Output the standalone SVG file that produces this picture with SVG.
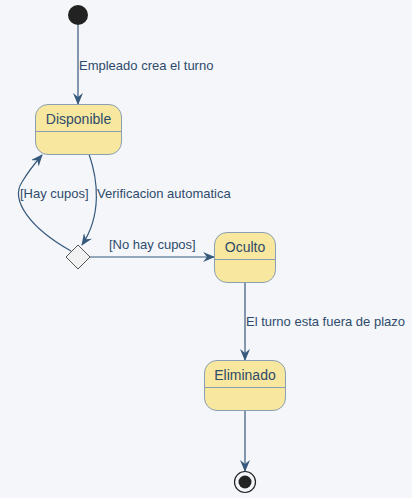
<svg xmlns="http://www.w3.org/2000/svg" width="412" height="498" viewBox="0 0 412 498">
<defs>
<style>
.st{fill:#F8E79E;stroke:#8AA0B2;stroke-width:1}
.dv{stroke:#8AA0B2;stroke-width:1}
.nm{font-family:"Liberation Sans",Arial,sans-serif;font-size:14px;fill:#2E4B6B;text-anchor:middle}
.lb{font-family:"Liberation Sans",Arial,sans-serif;font-size:13px;fill:#2E4B6B}
.ln{fill:none;stroke:#36597C;stroke-width:1.2}
</style>
<marker id="ah" viewBox="0 0 12 10" refX="11" refY="5" markerWidth="12" markerHeight="10" markerUnits="userSpaceOnUse" orient="auto">
<path d="M0,0 L12,5 L0,10 L4,5 z" fill="#36597C"/>
</marker>
</defs>
<rect width="412" height="498" fill="#F4F6FA"/>
<g id="connectors">
<line class="ln" x1="78" y1="25" x2="78" y2="104" marker-end="url(#ah)"/>
<path class="ln" d="M89,154 C98,180 102,215 82,245" marker-end="url(#ah)"/>
<path class="ln" d="M71,251 C30,228 10,200 22,182 C28,172 36,162 42,155" marker-end="url(#ah)"/>
<line class="ln" x1="90" y1="257" x2="214" y2="257" marker-end="url(#ah)"/>
<line class="ln" x1="245" y1="282" x2="245" y2="360" marker-end="url(#ah)"/>
<line class="ln" x1="245" y1="410" x2="245" y2="471" marker-end="url(#ah)"/>
<text class="lb" x="79" y="70">Empleado crea el turno</text>
<text class="lb" x="20" y="198">[Hay cupos]</text>
<text class="lb" x="97" y="198">Verificacion automatica</text>
<text class="lb" x="109" y="249">[No hay cupos]</text>
<text class="lb" x="246" y="326">El turno esta fuera de plazo</text>
</g>
<g id="start">
<circle cx="78" cy="15" r="10" fill="#222222"/>
</g>
<g id="Disponible">
<rect class="st" x="35.5" y="104.5" width="86" height="50" rx="12.5"/>
<line class="dv" x1="35.5" y1="131.5" x2="121.5" y2="131.5"/>
<text class="nm" x="78.5" y="124">Disponible</text>
</g>
<g id="choice">
<polygon points="78,245 90,257 78,269 66,257" fill="#F1F1F1" stroke="#555555" stroke-width="1"/>
</g>
<g id="Oculto">
<rect class="st" x="214.5" y="232.5" width="61" height="50" rx="12.5"/>
<line class="dv" x1="214.5" y1="259.5" x2="275.5" y2="259.5"/>
<text class="nm" x="245" y="252">Oculto</text>
</g>
<g id="Eliminado">
<rect class="st" x="204.5" y="360.5" width="81" height="50" rx="12.5"/>
<line class="dv" x1="204.5" y1="387.5" x2="285.5" y2="387.5"/>
<text class="nm" x="245" y="380">Eliminado</text>
</g>
<g id="end">
<circle cx="245" cy="482" r="10.5" fill="none" stroke="#222222" stroke-width="1.2"/>
<circle cx="245" cy="482" r="6.5" fill="#222222"/>
</g>
</svg>
